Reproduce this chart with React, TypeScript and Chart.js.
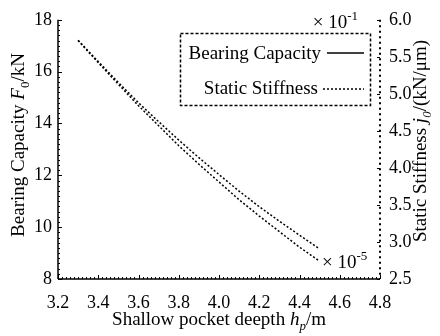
import { useEffect, useRef } from "react";
import { Chart, registerables } from "chart.js";

Chart.register(...registerables);

const depth = [3.3, 3.4, 3.5, 3.6, 3.7, 3.8, 3.9, 4.0, 4.1, 4.2, 4.3, 4.4, 4.5];
const bearingCapacity = [17.21, 16.39, 15.58, 14.8, 14.07, 13.36, 12.68, 12.03, 11.39, 10.79, 10.23, 9.69, 9.16];
const staticStiffness = [5.72, 5.42, 5.13, 4.84, 4.57, 4.3, 4.05, 3.81, 3.57, 3.35, 3.14, 2.93, 2.74];

const legendLabels = ["Bearing Capacity", "Static Stiffness"];

const FONT = '"Liberation Serif", "Times New Roman", serif';
const TICK_FS = 18;
const FS = 19;

type Seg = { t: string; it?: boolean; sub?: boolean; sup?: boolean };

function segFont(s: Seg, size: number) {
  const sz = s.sub || s.sup ? Math.round(size * 0.68) : size;
  return `${s.it ? "italic " : ""}${sz}px ${FONT}`;
}
function richWidth(ctx: CanvasRenderingContext2D, segs: Seg[], size: number) {
  let w = 0;
  for (const s of segs) {
    ctx.font = segFont(s, size);
    w += ctx.measureText(s.t).width;
  }
  return w;
}
function drawRich(
  ctx: CanvasRenderingContext2D,
  segs: Seg[],
  x: number,
  y: number,
  size: number,
  align: "left" | "center" | "right"
) {
  const w = richWidth(ctx, segs, size);
  let cx = align === "center" ? x - w / 2 : align === "right" ? x - w : x;
  ctx.textAlign = "left";
  ctx.textBaseline = "alphabetic";
  for (const s of segs) {
    ctx.font = segFont(s, size);
    const dy = s.sub ? size * 0.25 : s.sup ? -size * 0.4 : 0;
    ctx.fillText(s.t, cx, y + dy);
    cx += ctx.measureText(s.t).width;
  }
}

const decorPlugin = {
  id: "decor",
  afterDraw(chart: any) {
    const ctx: CanvasRenderingContext2D = chart.ctx;
    const { left, right, top, bottom } = chart.chartArea;
    const xs = chart.scales.x;
    const ys = chart.scales.y;
    const y1 = chart.scales.y1;
    ctx.save();
    ctx.strokeStyle = "#000";
    ctx.fillStyle = "#000";

    // bottom axis
    ctx.setLineDash([]);
    ctx.lineWidth = 1.5;
    ctx.beginPath();
    ctx.moveTo(left, bottom);
    ctx.lineTo(right, bottom);
    ctx.stroke();
    // left axis
    ctx.beginPath();
    ctx.moveTo(left, top);
    ctx.lineTo(left, bottom);
    ctx.stroke();
    // right axis dotted
    ctx.lineWidth = 2;
    ctx.setLineDash([2, 3.5]);
    ctx.beginPath();
    ctx.moveTo(right, top);
    ctx.lineTo(right, bottom);
    ctx.stroke();
    ctx.setLineDash([]);

    // minor + major ticks (inward)
    ctx.lineWidth = 1;
    const xmin = xs.min, xmax = xs.max;
    const nX = Math.round((xmax - xmin) / 0.02);
    for (let i = 0; i <= nX; i++) {
      const v = xmin + i * 0.02;
      const px = Math.round(xs.getPixelForValue(v)) + 0.5;
      const len = i % 10 === 0 ? 4 : 2;
      ctx.beginPath();
      ctx.moveTo(px, bottom);
      ctx.lineTo(px, bottom - len);
      ctx.stroke();
    }
    const nY = Math.round((ys.max - ys.min) / 0.2);
    for (let i = 0; i <= nY; i++) {
      const v = ys.min + i * 0.2;
      const py = Math.round(ys.getPixelForValue(v)) + 0.5;
      const len = i % 10 === 0 ? 4 : 2;
      ctx.beginPath();
      ctx.moveTo(left, py);
      ctx.lineTo(left + len, py);
      ctx.stroke();
    }
    const nY1 = Math.round((y1.max - y1.min) / 0.5);
    for (let i = 0; i <= nY1; i++) {
      const v = y1.min + i * 0.5;
      const py = Math.round(y1.getPixelForValue(v)) + 0.5;
      ctx.beginPath();
      ctx.moveTo(right, py);
      ctx.lineTo(right - 3, py);
      ctx.stroke();
    }

    // legend box
    ctx.lineWidth = 1.5;
    ctx.setLineDash([3, 2]);
    ctx.strokeRect(180.5, 33.5, 190, 72);
    ctx.setLineDash([]);
    drawRich(ctx, [{ t: legendLabels[0] }], 321, 59, FS, "right");
    drawRich(ctx, [{ t: legendLabels[1] }], 318, 94, FS, "right");
    ctx.lineWidth = 1.5;
    ctx.beginPath();
    ctx.moveTo(327, 53);
    ctx.lineTo(364, 53);
    ctx.stroke();
    ctx.setLineDash([2, 2]);
    ctx.beginPath();
    ctx.moveTo(323, 89);
    ctx.lineTo(364, 89);
    ctx.stroke();
    ctx.setLineDash([]);

    // multipliers
    drawRich(ctx, [{ t: "× 10" }, { t: "-1", sup: true }], 358, 28, FS, "right");
    drawRich(ctx, [{ t: "× 10" }, { t: "-5", sup: true }], 322, 268, FS, "left");

    // axis titles
    drawRich(
      ctx,
      [{ t: "Shallow pocket deepth " }, { t: "h", it: true }, { t: "p", it: true, sub: true }, { t: "/m" }],
      (left + right) / 2,
      325,
      FS,
      "center"
    );
    ctx.save();
    ctx.translate(24, 145);
    ctx.rotate(-Math.PI / 2);
    drawRich(
      ctx,
      [{ t: "Bearing Capacity " }, { t: "F", it: true }, { t: "0", sub: true }, { t: "/kN" }],
      0,
      0,
      FS,
      "center"
    );
    ctx.restore();
    ctx.save();
    ctx.translate(426, 141);
    ctx.rotate(-Math.PI / 2);
    drawRich(
      ctx,
      [{ t: "Static Stiffness " }, { t: "j", it: true }, { t: "0", it: true, sub: true }, { t: "/(kN/μm)" }],
      0,
      0,
      FS,
      "center"
    );
    ctx.restore();

    ctx.restore();
  },
};

export default function App() {
  const ref = useRef<HTMLCanvasElement>(null);
  useEffect(() => {
    const tickFont = { family: FONT, size: TICK_FS };
    const chart = new Chart(ref.current!, {
      type: "line",
      data: {
        datasets: [
          {
            label: legendLabels[0],
            data: depth.map((x, i) => ({ x, y: bearingCapacity[i] })),
            borderColor: "#000",
            borderWidth: 1.5,
            borderDash: [2, 2],
            pointRadius: 0,
            tension: 0,
            fill: false,
            yAxisID: "y",
          },
          {
            label: legendLabels[1],
            data: depth.map((x, i) => ({ x, y: staticStiffness[i] })),
            borderColor: "#000",
            borderWidth: 1.5,
            borderDash: [2, 2],
            pointRadius: 0,
            tension: 0,
            fill: false,
            yAxisID: "y1",
          },
        ],
      },
      options: {
        animation: false,
        responsive: false,
        devicePixelRatio: 1,
        layout: { padding: { top: 12, left: 0, right: 0, bottom: 0 } },
        plugins: { legend: { display: false }, tooltip: { enabled: false } },
        scales: {
          x: {
            type: "linear",
            min: 3.2,
            max: 4.8,
            grid: { display: false, drawTicks: false },
            border: { display: false },
            ticks: {
              stepSize: 0.2,
              color: "#000",
              font: tickFont,
              padding: 13,
              maxRotation: 0,
              autoSkip: false,
              callback: (v: any) => Number(v).toFixed(1),
            },
            afterFit: (s: any) => {
              s.height = 57;
            },
          },
          y: {
            position: "left",
            min: 8,
            max: 18,
            grid: { display: false, drawTicks: false },
            border: { display: false },
            ticks: { stepSize: 2, color: "#000", font: tickFont, padding: 6 },
            afterFit: (s: any) => {
              s.width = 58;
            },
          },
          y1: {
            position: "right",
            min: 2.5,
            max: 6,
            grid: { display: false, drawTicks: false },
            border: { display: false },
            ticks: {
              stepSize: 0.5,
              color: "#000",
              font: tickFont,
              padding: 9,
              callback: (v: any) => Number(v).toFixed(1),
            },
            afterFit: (s: any) => {
              s.width = 60;
            },
          },
        },
      },
      plugins: [decorPlugin],
    } as any);
    return () => chart.destroy();
  }, []);
  return (
    <div style={{ position: "fixed", left: 0, top: 0, width: 440, height: 336, background: "#fff" }}>
      <canvas ref={ref} width={440} height={336} style={{ display: "block", width: 440, height: 336 }} />
    </div>
  );
}
